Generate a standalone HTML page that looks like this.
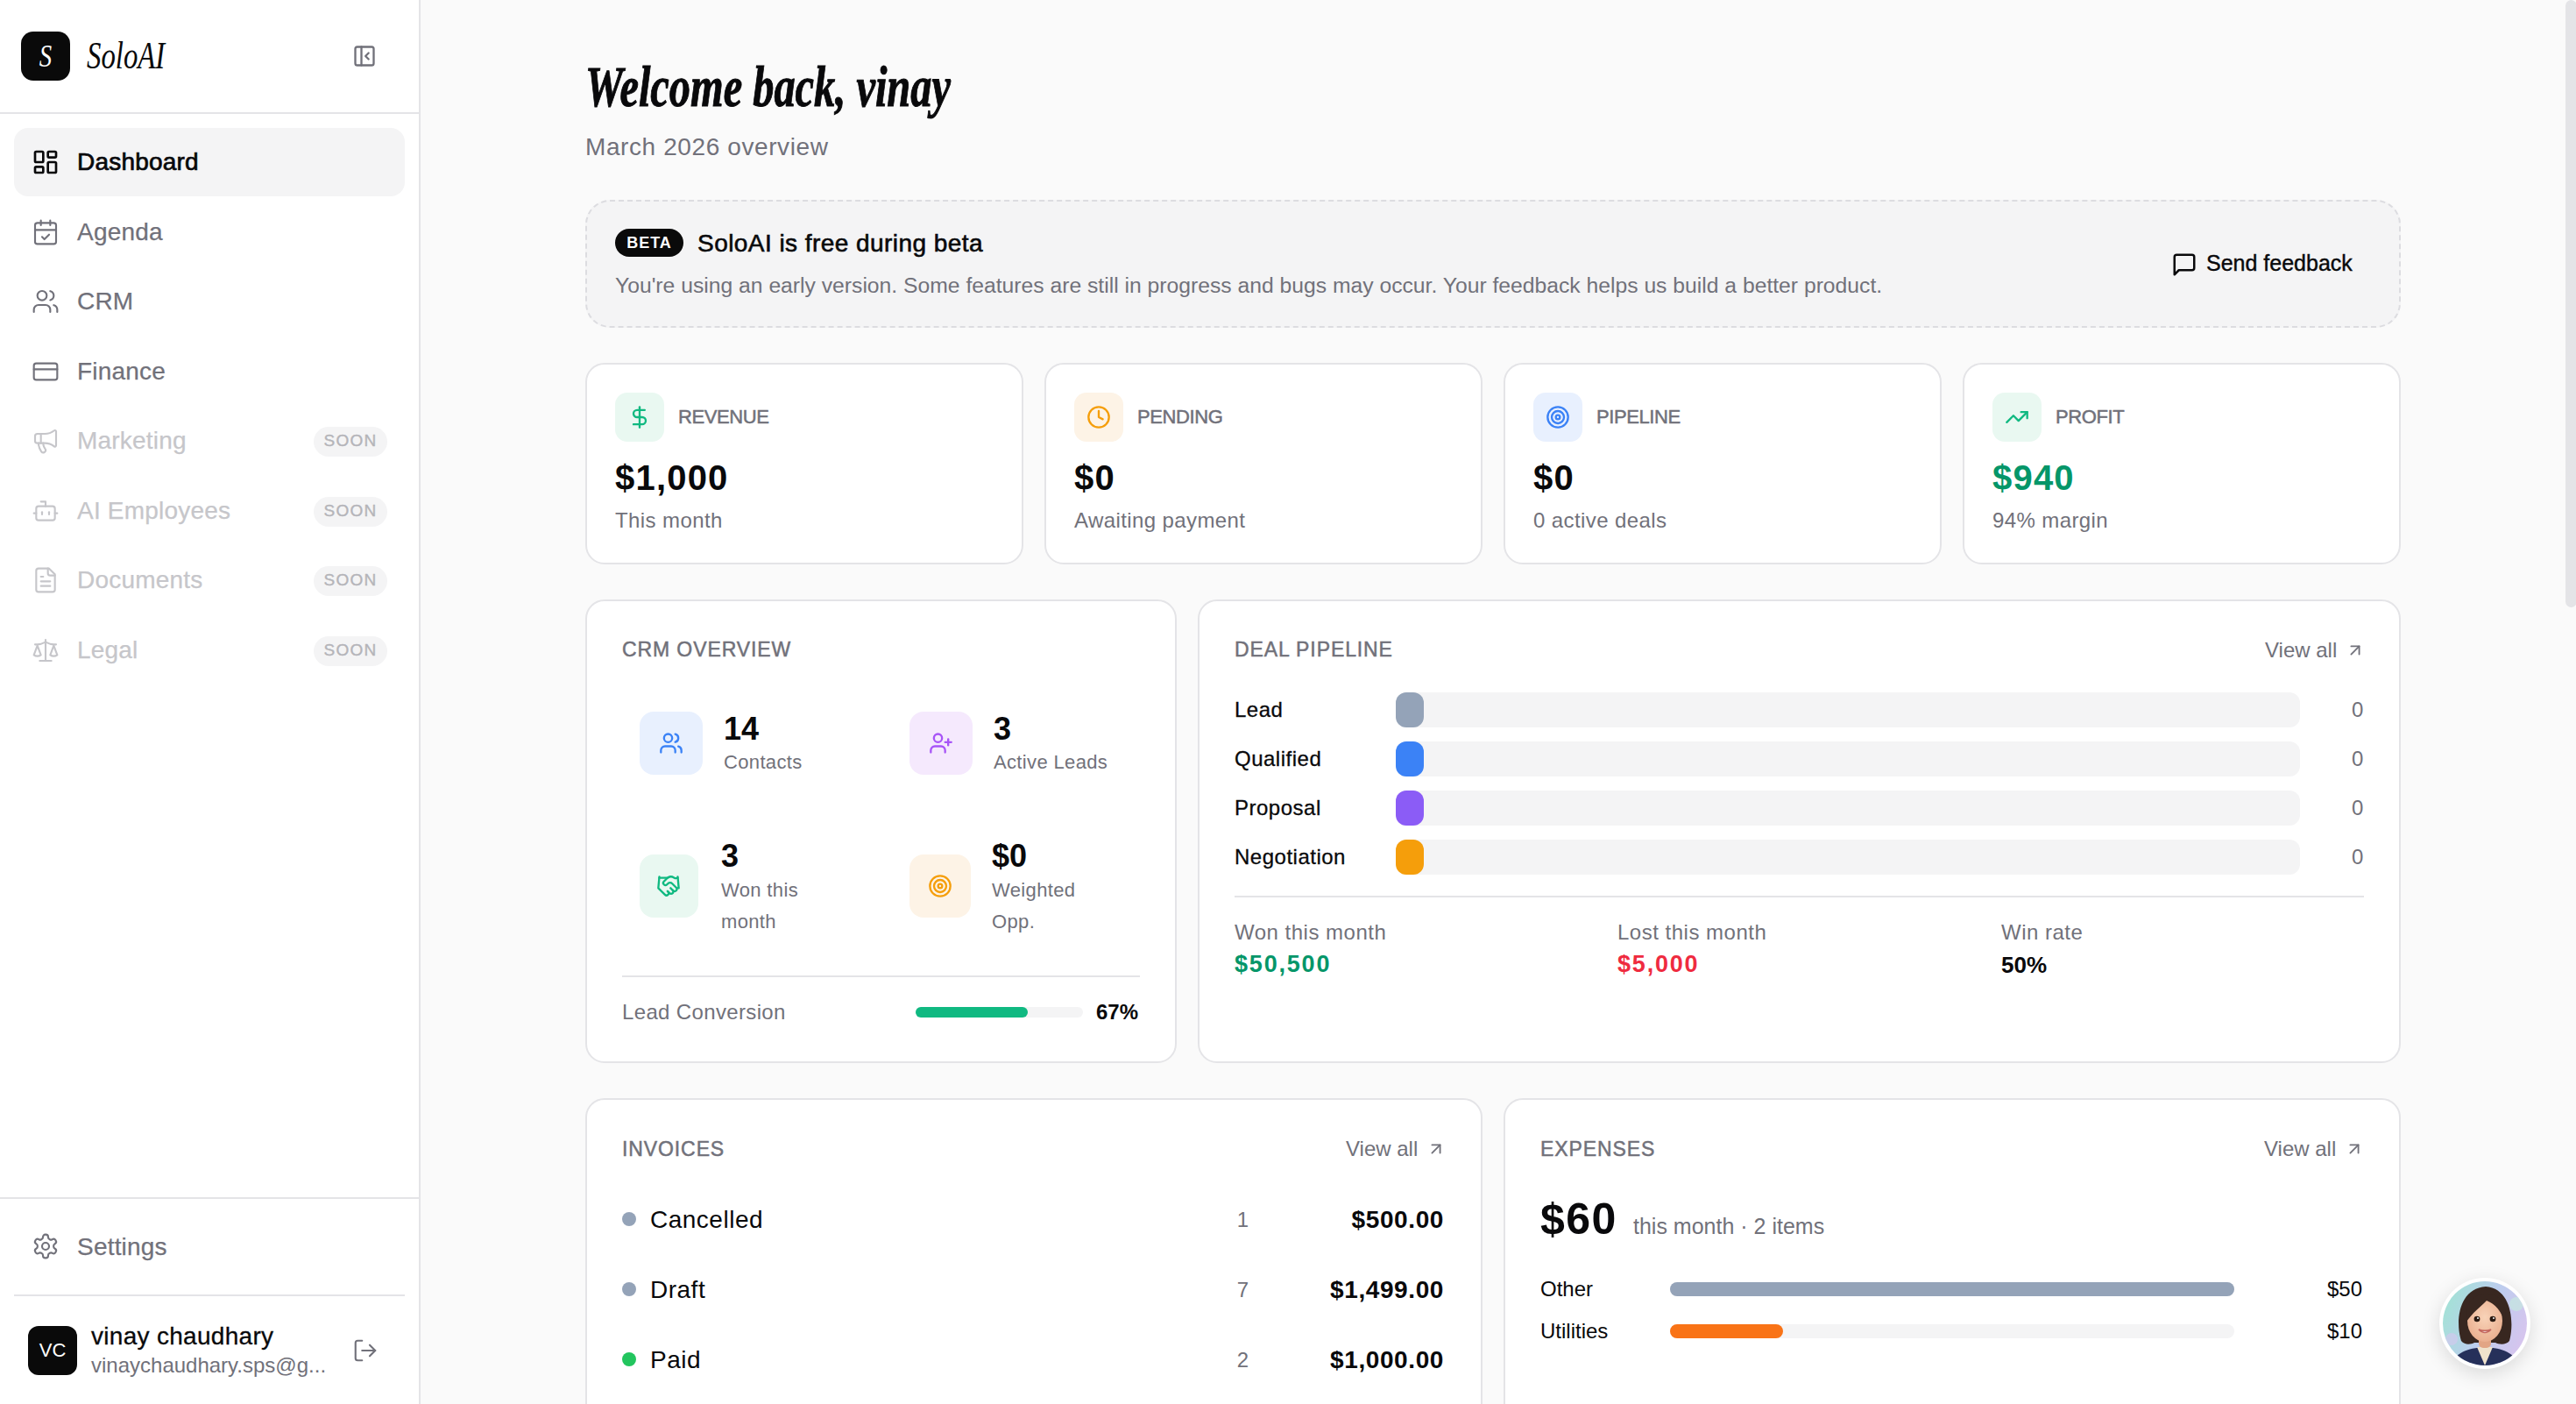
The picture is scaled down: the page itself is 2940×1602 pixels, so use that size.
<!DOCTYPE html>
<html><head><meta charset="utf-8">
<style>
*{box-sizing:border-box;margin:0;padding:0}
html,body{width:2940px;height:1602px;overflow:hidden;background:#fafafa;font-family:"Liberation Sans",sans-serif;color:#09090b}
.a{position:absolute}
.nw{white-space:nowrap}
svg{display:block}
.ic{fill:none;stroke:currentColor;stroke-linecap:round;stroke-linejoin:round}
#side{position:absolute;left:0;top:0;width:480px;height:1602px;background:#fff;border-right:2px solid #e4e4e7}
.nav{position:absolute;left:16px;width:446px;height:78px;border-radius:16px;color:#71717a}
.nav .ico{position:absolute;left:20px;top:23px;width:32px;height:32px}
.nav .t{position:absolute;left:72px;top:0;line-height:78px;font-size:28px;letter-spacing:0.2px;-webkit-text-stroke:0.25px currentColor}
.nav.on{background:#f4f4f5;color:#09090b}
.nav.on .t{-webkit-text-stroke:0.7px #09090b}
.nav.dis{color:#c6c6ca}
.nav .ico{stroke-width:1.6}
.nav.on .ico{stroke-width:2}
.soon{position:absolute;left:342px;top:23px;width:84px;height:34px;border-radius:17px;background:#f4f4f5;color:#b4b4b9;font-size:19px;line-height:32px;text-align:center;letter-spacing:1.2px;-webkit-text-stroke:0.4px #b4b4b9}
.card{position:absolute;background:#fff;border:2px solid #e4e4e7;border-radius:22px}
.lbl{font-size:23px;letter-spacing:0.9px;color:#71717a;-webkit-text-stroke:0.5px #71717a}
.slbl{letter-spacing:-0.4px !important}
.mut{color:#71717a}
@media (max-width:2000px){html{zoom:0.5}}
</style></head>
<body>
<div id="side">
  <div class="a" style="left:24px;top:36px;width:56px;height:56px;border-radius:14px;background:#0a0a0a;color:#fff;font:italic 36px 'Liberation Serif',serif;text-align:center;line-height:56px"><span style="display:inline-block;transform:scaleX(0.8)">S</span></div>
  <div class="a nw" style="left:99px;top:39px;font:italic 44px 'Liberation Serif',serif;line-height:50px;transform:scaleX(0.745);transform-origin:left">SoloAI</div>
  <svg class="a ic" style="left:402px;top:50px;color:#71717a" width="28" height="28" viewBox="0 0 24 24" stroke-width="2"><rect width="18" height="18" x="3" y="3" rx="2"/><path d="M9 3v18"/><path d="m16 15-3-3 3-3"/></svg>
  <div class="a" style="left:0;top:128px;width:478px;height:2px;background:#e4e4e7"></div>

  <div class="nav on" style="top:146px">
    <svg class="ico ic" viewBox="0 0 24 24" stroke-width="2"><rect width="7" height="9" x="3" y="3" rx="1"/><rect width="7" height="5" x="14" y="3" rx="1"/><rect width="7" height="9" x="14" y="12" rx="1"/><rect width="7" height="5" x="3" y="16" rx="1"/></svg>
    <div class="t">Dashboard</div>
  </div>
  <div class="nav" style="top:226px">
    <svg class="ico ic" viewBox="0 0 24 24" stroke-width="2"><path d="M8 2v4"/><path d="M16 2v4"/><rect width="18" height="18" x="3" y="4" rx="2"/><path d="M3 10h18"/><path d="m9 16 2 2 4-4"/></svg>
    <div class="t">Agenda</div>
  </div>
  <div class="nav" style="top:305px">
    <svg class="ico ic" viewBox="0 0 24 24" stroke-width="2"><path d="M16 21v-2a4 4 0 0 0-4-4H6a4 4 0 0 0-4 4v2"/><circle cx="9" cy="7" r="4"/><path d="M22 21v-2a4 4 0 0 0-3-3.87"/><path d="M16 3.13a4 4 0 0 1 0 7.75"/></svg>
    <div class="t">CRM</div>
  </div>
  <div class="nav" style="top:385px">
    <svg class="ico ic" viewBox="0 0 24 24" stroke-width="2"><rect width="20" height="14" x="2" y="5" rx="2"/><line x1="2" x2="22" y1="10" y2="10"/></svg>
    <div class="t">Finance</div>
  </div>
  <div class="nav dis" style="top:464px">
    <svg class="ico ic" viewBox="0 0 24 24" stroke-width="2"><path d="M11 6a13 13 0 0 0 8.4-2.8A1 1 0 0 1 21 4v12a1 1 0 0 1-1.6.8A13 13 0 0 0 11 14H5a2 2 0 0 1-2-2V8a2 2 0 0 1 2-2z"/><path d="M6 14a12 12 0 0 0 2.4 7.2 2 2 0 0 0 3.2-2.4A8 8 0 0 1 10 14"/><path d="M8 6v8"/></svg>
    <div class="t">Marketing</div><div class="soon">SOON</div>
  </div>
  <div class="nav dis" style="top:544px">
    <svg class="ico ic" viewBox="0 0 24 24" stroke-width="2"><path d="M12 8V4H8"/><rect width="16" height="12" x="4" y="8" rx="2"/><path d="M2 14h2"/><path d="M20 14h2"/><path d="M15 13v2"/><path d="M9 13v2"/></svg>
    <div class="t">AI Employees</div><div class="soon">SOON</div>
  </div>
  <div class="nav dis" style="top:623px">
    <svg class="ico ic" viewBox="0 0 24 24" stroke-width="2"><path d="M15 2H6a2 2 0 0 0-2 2v16a2 2 0 0 0 2 2h12a2 2 0 0 0 2-2V7Z"/><path d="M14 2v4a2 2 0 0 0 2 2h4"/><path d="M10 9H8"/><path d="M16 13H8"/><path d="M16 17H8"/></svg>
    <div class="t">Documents</div><div class="soon">SOON</div>
  </div>
  <div class="nav dis" style="top:703px">
    <svg class="ico ic" viewBox="0 0 24 24" stroke-width="2"><path d="m16 16 3-8 3 8c-.87.65-1.92 1-3 1s-2.13-.35-3-1Z"/><path d="m2 16 3-8 3 8c-.87.65-1.92 1-3 1s-2.13-.35-3-1Z"/><path d="M7 21h10"/><path d="M12 3v18"/><path d="M3 7h2c2 0 5-1 7-2 2 1 5 2 7 2h2"/></svg>
    <div class="t">Legal</div><div class="soon">SOON</div>
  </div>

  <div class="a" style="left:0;top:1366px;width:478px;height:2px;background:#e4e4e7"></div>
  <div class="nav" style="top:1383px">
    <svg class="ico ic" viewBox="0 0 24 24" stroke-width="2"><path d="M12.22 2h-.44a2 2 0 0 0-2 2v.18a2 2 0 0 1-1 1.73l-.43.25a2 2 0 0 1-2 0l-.15-.08a2 2 0 0 0-2.73.73l-.22.38a2 2 0 0 0 .73 2.73l.15.1a2 2 0 0 1 1 1.72v.51a2 2 0 0 1-1 1.74l-.15.09a2 2 0 0 0-.73 2.730l.22.38a2 2 0 0 0 2.73.73l.15-.08a2 2 0 0 1 2 0l.43.25a2 2 0 0 1 1 1.73V20a2 2 0 0 0 2 2h.44a2 2 0 0 0 2-2v-.18a2 2 0 0 1 1-1.73l.43-.25a2 2 0 0 1 2 0l.15.08a2 2 0 0 0 2.73-.73l.22-.39a2 2 0 0 0-.73-2.73l-.15-.08a2 2 0 0 1-1-1.74v-.5a2 2 0 0 1 1-1.74l.15-.09a2 2 0 0 0 .73-2.73l-.22-.38a2 2 0 0 0-2.73-.73l-.15.08a2 2 0 0 1-2 0l-.43-.25a2 2 0 0 1-1-1.73V4a2 2 0 0 0-2-2z"/><circle cx="12" cy="12" r="3"/></svg>
    <div class="t" style="top:1px">Settings</div>
  </div>
  <div class="a" style="left:16px;top:1477px;width:446px;height:2px;background:#e4e4e7"></div>
  <div class="a" style="left:32px;top:1513px;width:56px;height:56px;border-radius:12px;background:#0a0a0a;color:#fff;font-size:22px;line-height:56px;text-align:center">VC</div>
  <div class="a nw" style="left:104px;top:1508px;font-size:28px;line-height:34px;letter-spacing:0.3px;-webkit-text-stroke:0.3px #09090b">vinay chaudhary</div>
  <div class="a nw mut" style="left:104px;top:1543px;font-size:24px;line-height:30px">vinaychaudhary.sps@g...</div>
  <svg class="a ic" style="left:402px;top:1526px;color:#71717a" width="30" height="30" viewBox="0 0 24 24" stroke-width="1.7"><path d="M9 21H5a2 2 0 0 1-2-2V5a2 2 0 0 1 2-2h4"/><polyline points="16 17 21 12 16 7"/><line x1="21" x2="9" y1="12" y2="12"/></svg>
</div>

<!-- MAIN -->
<div class="a nw" style="left:668px;top:66px;font:bold italic 66px 'Liberation Serif',serif;line-height:66px;transform:scaleX(0.733);transform-origin:left;-webkit-text-stroke:1px #09090b">Welcome back, vinay</div>
<div class="a nw mut" style="left:668px;top:151px;font-size:28px;line-height:34px;letter-spacing:0.6px">March 2026 overview</div>

<!-- banner -->
<div class="a" style="left:668px;top:228px;width:2072px;height:146px;border:2px dashed #dcdce0;border-radius:28px;background:#f4f4f5">
  <div class="a nw" style="left:32px;top:31px;width:78px;height:32px;border-radius:16px;background:#0a0a0a;color:#fff;font:bold 18px 'Liberation Sans';line-height:32px;text-align:center;letter-spacing:1px">BETA</div>
  <div class="a nw" style="left:126px;top:30px;font-size:28px;line-height:36px;letter-spacing:0.45px;-webkit-text-stroke:0.6px #09090b">SoloAI is free during beta</div>
  <div class="a nw mut" style="left:32px;top:79px;font-size:24.7px;line-height:34px">You're using an early version. Some features are still in progress and bugs may occur. Your feedback helps us build a better product.</div>
  <svg class="a ic" style="left:1808px;top:57px;color:#09090b" width="30" height="30" viewBox="0 0 24 24" stroke-width="2"><path d="M21 15a2 2 0 0 1-2 2H7l-4 4V5a2 2 0 0 1 2-2h14a2 2 0 0 1 2 2z"/></svg>
  <div class="a nw" style="left:1848px;top:58px;font-size:25px;line-height:25px;-webkit-text-stroke:0.4px #09090b">Send feedback</div>
</div>

<!-- stat cards -->
<div class="card" style="left:668px;top:414px;width:500px;height:230px">
  <div class="a" style="left:32px;top:32px;width:56px;height:56px;border-radius:14px;background:#e9f8f1"><svg class="a ic" style="left:14px;top:14px;color:#10b981" width="28" height="28" viewBox="0 0 24 24" stroke-width="2"><line x1="12" x2="12" y1="2" y2="22"/><path d="M17 5H9.5a3.5 3.5 0 0 0 0 7h5a3.5 3.5 0 0 1 0 7H6"/></svg></div>
  <div class="a nw lbl slbl" style="left:104px;top:49px;font-size:22px;line-height:22px">REVENUE</div>
  <div class="a nw" style="left:32px;top:109px;font:bold 40px 'Liberation Sans';line-height:40px;letter-spacing:1.2px">$1,000</div>
  <div class="a nw mut" style="left:32px;top:166px;font-size:24px;line-height:24px;letter-spacing:0.4px">This month</div>
</div>
<div class="card" style="left:1192px;top:414px;width:500px;height:230px">
  <div class="a" style="left:32px;top:32px;width:56px;height:56px;border-radius:14px;background:#fdf3e6"><svg class="a ic" style="left:14px;top:14px;color:#f59e0b" width="28" height="28" viewBox="0 0 24 24" stroke-width="2"><circle cx="12" cy="12" r="10"/><polyline points="12 6 12 12 16 14"/></svg></div>
  <div class="a nw lbl slbl" style="left:104px;top:49px;font-size:22px;line-height:22px">PENDING</div>
  <div class="a nw" style="left:32px;top:109px;font:bold 40px 'Liberation Sans';line-height:40px;letter-spacing:1.2px">$0</div>
  <div class="a nw mut" style="left:32px;top:166px;font-size:24px;line-height:24px;letter-spacing:0.4px">Awaiting payment</div>
</div>
<div class="card" style="left:1716px;top:414px;width:500px;height:230px">
  <div class="a" style="left:32px;top:32px;width:56px;height:56px;border-radius:14px;background:#e8f0fe"><svg class="a ic" style="left:14px;top:14px;color:#3b82f6" width="28" height="28" viewBox="0 0 24 24" stroke-width="2"><circle cx="12" cy="12" r="10"/><circle cx="12" cy="12" r="6"/><circle cx="12" cy="12" r="2"/></svg></div>
  <div class="a nw lbl slbl" style="left:104px;top:49px;font-size:22px;line-height:22px">PIPELINE</div>
  <div class="a nw" style="left:32px;top:109px;font:bold 40px 'Liberation Sans';line-height:40px;letter-spacing:1.2px">$0</div>
  <div class="a nw mut" style="left:32px;top:166px;font-size:24px;line-height:24px;letter-spacing:0.4px">0 active deals</div>
</div>
<div class="card" style="left:2240px;top:414px;width:500px;height:230px">
  <div class="a" style="left:32px;top:32px;width:56px;height:56px;border-radius:14px;background:#e9f8f1"><svg class="a ic" style="left:14px;top:14px;color:#10b981" width="28" height="28" viewBox="0 0 24 24" stroke-width="2"><polyline points="22 7 13.5 15.5 8.5 10.5 2 17"/><polyline points="16 7 22 7 22 13"/></svg></div>
  <div class="a nw lbl slbl" style="left:104px;top:49px;font-size:22px;line-height:22px">PROFIT</div>
  <div class="a nw" style="left:32px;top:109px;font:bold 40px 'Liberation Sans';line-height:40px;letter-spacing:1.2px;color:#059669">$940</div>
  <div class="a nw mut" style="left:32px;top:166px;font-size:24px;line-height:24px;letter-spacing:0.4px">94% margin</div>
</div>

<!-- CRM overview -->
<div class="card" style="left:668px;top:684px;width:675px;height:529px">
  <div class="a nw lbl" style="left:40px;top:44px;line-height:23px">CRM OVERVIEW</div>
  <div class="a" style="left:60px;top:126px;width:72px;height:72px;border-radius:16px;background:#e8f0fe"><svg class="a ic" style="left:22px;top:22px;color:#3b82f6" width="28" height="28" viewBox="0 0 24 24" stroke-width="2"><path d="M16 21v-2a4 4 0 0 0-4-4H6a4 4 0 0 0-4 4v2"/><circle cx="9" cy="7" r="4"/><path d="M22 21v-2a4 4 0 0 0-3-3.87"/><path d="M16 3.13a4 4 0 0 1 0 7.75"/></svg></div>
  <div class="a nw" style="left:156px;top:128px;font:bold 36px 'Liberation Sans';line-height:36px">14</div>
  <div class="a nw mut" style="left:156px;top:173px;font-size:22px;line-height:22px;letter-spacing:0.35px">Contacts</div>
  <div class="a" style="left:368px;top:126px;width:72px;height:72px;border-radius:16px;background:#f5e9fd"><svg class="a ic" style="left:22px;top:22px;color:#a855f7" width="28" height="28" viewBox="0 0 24 24" stroke-width="2"><path d="M16 21v-2a4 4 0 0 0-4-4H6a4 4 0 0 0-4 4v2"/><circle cx="9" cy="7" r="4"/><line x1="19" x2="19" y1="8" y2="14"/><line x1="22" x2="16" y1="11" y2="11"/></svg></div>
  <div class="a nw" style="left:464px;top:128px;font:bold 36px 'Liberation Sans';line-height:36px">3</div>
  <div class="a nw mut" style="left:464px;top:173px;font-size:22px;line-height:22px;letter-spacing:0.35px">Active Leads</div>
  <div class="a" style="left:60px;top:289px;width:67px;height:72px;border-radius:16px;background:#e9f8f1"><svg class="a ic" style="left:19px;top:22px;color:#10b981" width="28" height="28" viewBox="0 0 24 24" stroke-width="2"><path d="m11 17 2 2a1 1 0 1 0 3-3"/><path d="m14 14 2.5 2.5a1 1 0 1 0 3-3l-3.88-3.88a3 3 0 0 0-4.24 0l-.88.88a1 1 0 1 1-3-3l2.81-2.81a5.79 5.79 0 0 1 7.06-.87l.47.28a2 2 0 0 0 1.42.25L21 4"/><path d="m21 3 1 11h-2"/><path d="M3 3 2 14l6.5 6.5a1 1 0 1 0 3-3"/><path d="M3 4h8"/></svg></div>
  <div class="a nw" style="left:153px;top:273px;font:bold 36px 'Liberation Sans';line-height:36px">3</div>
  <div class="a mut" style="left:153px;top:312px;font-size:22px;line-height:36px;letter-spacing:0.35px">Won this<br>month</div>
  <div class="a" style="left:368px;top:289px;width:70px;height:72px;border-radius:16px;background:#fdf3e6"><svg class="a ic" style="left:21px;top:22px;color:#f59e0b" width="28" height="28" viewBox="0 0 24 24" stroke-width="2"><circle cx="12" cy="12" r="10"/><circle cx="12" cy="12" r="6"/><circle cx="12" cy="12" r="2"/></svg></div>
  <div class="a nw" style="left:462px;top:273px;font:bold 36px 'Liberation Sans';line-height:36px">$0</div>
  <div class="a mut" style="left:462px;top:312px;font-size:22px;line-height:36px;letter-spacing:0.35px">Weighted<br>Opp.</div>
  <div class="a" style="left:40px;top:427px;width:591px;height:2px;background:#e4e4e7"></div>
  <div class="a nw mut" style="left:40px;top:457px;font-size:24px;line-height:24px;letter-spacing:0.35px">Lead Conversion</div>
  <div class="a" style="left:375px;top:463px;width:191px;height:12px;border-radius:6px;background:#f4f4f5"><div style="width:128px;height:12px;border-radius:6px;background:#10b981"></div></div>
  <div class="a nw" style="right:42px;top:457px;font:bold 24px 'Liberation Sans';line-height:24px">67%</div>
</div>

<!-- Deal pipeline -->
<div class="card" style="left:1367px;top:684px;width:1373px;height:529px">
  <div class="a nw lbl" style="left:40px;top:44px;line-height:23px">DEAL PIPELINE</div>
  <div class="a nw mut" style="left:1216px;top:44px;font-size:24px;line-height:24px">View all</div>
  <svg class="a ic" style="left:1308px;top:45px;color:#71717a" width="22" height="22" viewBox="0 0 24 24" stroke-width="2"><path d="M7 7h10v10"/><path d="M7 17 17 7"/></svg>
  <div class="a nw" style="left:40px;top:112px;font-size:24px;line-height:24px;letter-spacing:0.5px;-webkit-text-stroke:0.3px #09090b">Lead</div>
  <div class="a nw" style="left:40px;top:168px;font-size:24px;line-height:24px;letter-spacing:0.5px;-webkit-text-stroke:0.3px #09090b">Qualified</div>
  <div class="a nw" style="left:40px;top:224px;font-size:24px;line-height:24px;letter-spacing:0.5px;-webkit-text-stroke:0.3px #09090b">Proposal</div>
  <div class="a nw" style="left:40px;top:280px;font-size:24px;line-height:24px;letter-spacing:0.5px;-webkit-text-stroke:0.3px #09090b">Negotiation</div>
  <div class="a" style="left:224px;top:104px;width:1032px;height:40px;border-radius:12px;background:#f4f4f5"><div style="width:32px;height:40px;border-radius:12px;background:#94a3b8"></div></div>
  <div class="a" style="left:224px;top:160px;width:1032px;height:40px;border-radius:12px;background:#f4f4f5"><div style="width:32px;height:40px;border-radius:12px;background:#3b82f6"></div></div>
  <div class="a" style="left:224px;top:216px;width:1032px;height:40px;border-radius:12px;background:#f4f4f5"><div style="width:32px;height:40px;border-radius:12px;background:#8b5cf6"></div></div>
  <div class="a" style="left:224px;top:272px;width:1032px;height:40px;border-radius:12px;background:#f4f4f5"><div style="width:32px;height:40px;border-radius:12px;background:#f59e0b"></div></div>
  <div class="a nw mut" style="left:1315px;top:112px;font-size:24px;line-height:24px">0</div>
  <div class="a nw mut" style="left:1315px;top:168px;font-size:24px;line-height:24px">0</div>
  <div class="a nw mut" style="left:1315px;top:224px;font-size:24px;line-height:24px">0</div>
  <div class="a nw mut" style="left:1315px;top:280px;font-size:24px;line-height:24px">0</div>
  <div class="a" style="left:40px;top:336px;width:1289px;height:2px;background:#e4e4e7"></div>
  <div class="a nw mut" style="left:40px;top:366px;font-size:24px;line-height:24px;letter-spacing:0.5px">Won this month</div>
  <div class="a nw" style="left:40px;top:401px;font:bold 27px 'Liberation Sans';line-height:27px;letter-spacing:1.8px;color:#059669">$50,500</div>
  <div class="a nw mut" style="left:477px;top:366px;font-size:24px;line-height:24px;letter-spacing:0.5px">Lost this month</div>
  <div class="a nw" style="left:477px;top:401px;font:bold 27px 'Liberation Sans';line-height:27px;letter-spacing:1.8px;color:#ef2b3f">$5,000</div>
  <div class="a nw mut" style="left:915px;top:366px;font-size:24px;line-height:24px;letter-spacing:0.5px">Win rate</div>
  <div class="a nw" style="left:915px;top:402px;font:bold 26px 'Liberation Sans';line-height:26px">50%</div>
</div>

<!-- Invoices -->
<div class="card" style="left:668px;top:1253px;width:1024px;height:420px">
  <div class="a nw lbl" style="left:40px;top:45px;line-height:23px">INVOICES</div>
  <div class="a nw mut" style="left:866px;top:44px;font-size:24px;line-height:24px">View all</div>
  <svg class="a ic" style="left:958px;top:45px;color:#71717a" width="22" height="22" viewBox="0 0 24 24" stroke-width="2"><path d="M7 7h10v10"/><path d="M7 17 17 7"/></svg>
  <div class="a" style="left:40px;top:128px;width:16px;height:16px;border-radius:8px;background:#94a3b8"></div>
  <div class="a nw" style="left:72px;top:123px;font-size:28px;line-height:28px;letter-spacing:0.5px">Cancelled</div>
  <div class="a nw mut" style="right:265px;top:123px;font-size:24px;line-height:28px">1</div>
  <div class="a nw" style="right:42px;top:123px;font:bold 28px 'Liberation Sans';line-height:28px;letter-spacing:0.6px">$500.00</div>
  <div class="a" style="left:40px;top:208px;width:16px;height:16px;border-radius:8px;background:#94a3b8"></div>
  <div class="a nw" style="left:72px;top:203px;font-size:28px;line-height:28px;letter-spacing:0.5px">Draft</div>
  <div class="a nw mut" style="right:265px;top:203px;font-size:24px;line-height:28px">7</div>
  <div class="a nw" style="right:42px;top:203px;font:bold 28px 'Liberation Sans';line-height:28px;letter-spacing:0.6px">$1,499.00</div>
  <div class="a" style="left:40px;top:288px;width:16px;height:16px;border-radius:8px;background:#22c55e"></div>
  <div class="a nw" style="left:72px;top:283px;font-size:28px;line-height:28px;letter-spacing:0.5px">Paid</div>
  <div class="a nw mut" style="right:265px;top:283px;font-size:24px;line-height:28px">2</div>
  <div class="a nw" style="right:42px;top:283px;font:bold 28px 'Liberation Sans';line-height:28px;letter-spacing:0.6px">$1,000.00</div>
</div>

<!-- Expenses -->
<div class="card" style="left:1716px;top:1253px;width:1024px;height:420px">
  <div class="a nw lbl" style="left:40px;top:45px;line-height:23px">EXPENSES</div>
  <div class="a nw mut" style="left:866px;top:44px;font-size:24px;line-height:24px">View all</div>
  <svg class="a ic" style="left:958px;top:45px;color:#71717a" width="22" height="22" viewBox="0 0 24 24" stroke-width="2"><path d="M7 7h10v10"/><path d="M7 17 17 7"/></svg>
  <div class="a nw" style="left:40px;top:111px;font:bold 50px 'Liberation Sans';line-height:50px;letter-spacing:1.5px">$60</div>
  <div class="a nw mut" style="left:146px;top:132px;font-size:25px;line-height:25px">this month · 2 items</div>
  <div class="a nw" style="left:40px;top:204px;font-size:24px;line-height:24px">Other</div>
  <div class="a" style="left:188px;top:208px;width:644px;height:16px;border-radius:8px;background:#f4f4f5"><div style="width:644px;height:16px;border-radius:8px;background:#94a3b8"></div></div>
  <div class="a nw" style="right:42px;top:204px;font-size:24px;line-height:24px">$50</div>
  <div class="a nw" style="left:40px;top:252px;font-size:24px;line-height:24px">Utilities</div>
  <div class="a" style="left:188px;top:256px;width:644px;height:16px;border-radius:8px;background:#f4f4f5"><div style="width:129px;height:16px;border-radius:8px;background:#f97316"></div></div>
  <div class="a nw" style="right:42px;top:252px;font-size:24px;line-height:24px">$10</div>
</div>

<!-- avatar -->
<div class="a" style="left:2784px;top:1458px;width:104px;height:104px;border-radius:52px;background:#fff;box-shadow:0 6px 22px rgba(0,0,0,0.13)">
  <svg class="a" style="left:4px;top:4px" width="96" height="96" viewBox="0 0 96 96">
    <defs>
      <linearGradient id="bg" x1="0" y1="0.3" x2="1" y2="0.7"><stop offset="0" stop-color="#a3e2d6"/><stop offset="0.5" stop-color="#bccdee"/><stop offset="1" stop-color="#d8c4ee"/></linearGradient>
      <radialGradient id="sk" cx="0.5" cy="0.42" r="0.62"><stop offset="0" stop-color="#f8d3b8"/><stop offset="1" stop-color="#e9ad8d"/></radialGradient>
      <clipPath id="cc"><circle cx="48" cy="48" r="48"/></clipPath>
    </defs>
    <g clip-path="url(#cc)">
      <rect width="96" height="96" fill="url(#bg)"/>
      <circle cx="84" cy="26" r="8" fill="#c4f0dc" opacity="0.55"/>
      <circle cx="10" cy="66" r="7" fill="#d7c6f0" opacity="0.6"/>
      <path d="M8 100 C10 84 26 76 48 75 C70 76 86 84 88 100Z" fill="#26305a"/>
      <path d="M39 75 L48 96 L57 75Z" fill="#efe2cc"/>
      <path d="M21 68 C14 46 18 8 49 6 C78 8 82 46 76 68 C72 73 64 72 60 70 L36 70 C32 72 25 73 21 68Z" fill="#382720"/>
      <rect x="41" y="60" width="14" height="16" rx="5" fill="#e2a585"/>
      <ellipse cx="48" cy="45" rx="20" ry="24" fill="url(#sk)"/>
      <path d="M27 46 C24 22 38 13 52 14 C68 16 74 30 71 48 C67 34 60 26 50 22 C42 30 34 36 27 46Z" fill="#382720"/>
      <ellipse cx="39" cy="43" rx="3.4" ry="3.2" fill="#2a1a12"/>
      <ellipse cx="57" cy="43" rx="3.4" ry="3.2" fill="#2a1a12"/>
      <circle cx="40" cy="42" r="1" fill="#fff"/><circle cx="58" cy="42" r="1" fill="#fff"/>
      <path d="M41 55 Q48 62 55 55 Q48 57.5 41 55Z" fill="#fff" stroke="#c3675f" stroke-width="1.6"/>
    </g>
  </svg>
</div>

<!-- scrollbar -->
<div class="a" style="left:2928px;top:0px;width:13px;height:693px;border-radius:6.5px;background:#e4e4e7"></div>
</body></html>
